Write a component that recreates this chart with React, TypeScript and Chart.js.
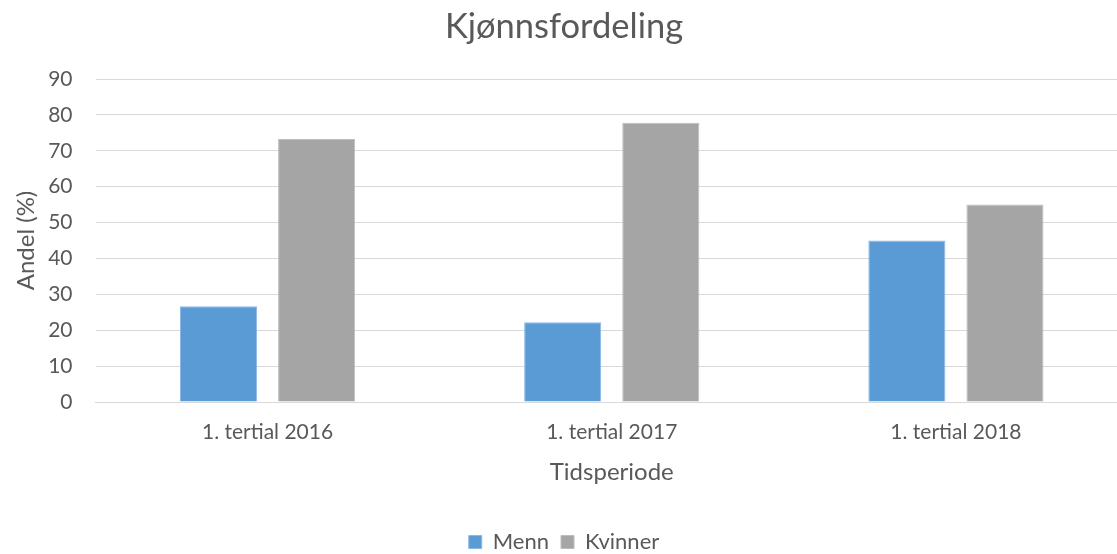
import React, { useEffect, useRef } from "react";
import { Chart, registerables } from "chart.js";

Chart.register(...registerables);

const categories = ["1. tertial 2016", "1. tertial 2017", "1. tertial 2018"];
const menn = [26.7, 22.2, 45];
const kvinner = [73.3, 77.8, 55];
const yTicks = [0, 10, 20, 30, 40, 50, 60, 70, 80, 90];

const FONT = "Lato, 'Open Sans', sans-serif";
const TEXT = "#595959";

export default function App() {
  const ref = useRef<HTMLCanvasElement | null>(null);
  useEffect(() => {
    if (!ref.current) return;
    const chart = new Chart(ref.current, {
      type: "bar",
      data: {
        labels: categories,
        datasets: [
          {
            label: "Menn",
            data: menn,
            backgroundColor: "#5B9BD5",
            borderColor: "#8CB8E4",
            borderWidth: 1,
            categoryPercentage: 0.57,
            barPercentage: 0.786,
          },
          {
            label: "Kvinner",
            data: kvinner,
            backgroundColor: "#A5A5A5",
            borderColor: "#BDBDBD",
            borderWidth: 1,
            categoryPercentage: 0.57,
            barPercentage: 0.786,
          },
        ],
      },
      options: {
        animation: false,
        responsive: false,
        maintainAspectRatio: false,
        layout: { padding: { left: 0, right: 0, top: 0, bottom: 0 } },
        plugins: {
          title: {
            display: true,
            text: "Kjønnsfordeling",
            color: TEXT,
            font: { family: FONT, size: 34.5, weight: "normal" },
            padding: { top: 6.3, bottom: 31.3 },
          },
          legend: {
            display: true,
            position: "bottom",
            labels: {
              color: TEXT,
              font: { family: FONT, size: 22 },
              boxWidth: 13,
              boxHeight: 13,
              padding: 12,
            },
          },
          tooltip: { enabled: false },
        },
        scales: {
          x: {
            afterFit: (scale: any) => {
              scale.height = 117;
            },
            grid: { display: false, drawTicks: false },
            border: { display: true, color: "#D9D9D9", width: 1 },
            ticks: { color: TEXT, font: { family: FONT, size: 21 }, padding: 17.4 },
            title: {
              display: true,
              text: "Tidsperiode",
              color: TEXT,
              font: { family: FONT, size: 24 },
              padding: { top: 0, bottom: 32.6 },
            },
          },
          y: {
            min: 0,
            max: 90,
            afterBuildTicks: (scale: any) => {
              scale.ticks = yTicks.map((v) => ({ value: v }));
            },
            afterFit: (scale: any) => {
              scale.width = 95.5;
            },
            grid: { color: "#D9D9D9", lineWidth: 1, drawTicks: false },
            border: { display: false },
            ticks: { color: TEXT, font: { family: FONT, size: 21 }, padding: 23 },
            title: {
              display: true,
              text: "Andel (%)",
              color: TEXT,
              font: { family: FONT, size: 24 },
              padding: { top: 11.6, bottom: 0 },
            },
          },
        },
      },
    });
    return () => chart.destroy();
  }, []);
  return (
    <div style={{ position: "fixed", left: 0, top: 0, width: 1117, height: 554, overflow: "hidden", background: "#fff" }}>
      <canvas ref={ref} width={1128} height={563} style={{ display: "block", width: 1128, height: 563 }} />
    </div>
  );
}
